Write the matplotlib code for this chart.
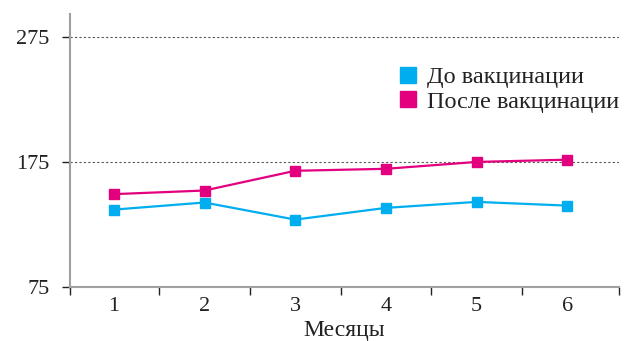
import matplotlib
matplotlib.use('Agg')
import matplotlib.pyplot as plt
from matplotlib.lines import Line2D

plt.rcParams['font.family'] = ['Liberation Serif', 'DejaVu Serif']

# monthly values for the two groups
months = [1, 2, 3, 4, 5, 6]
before = [136.8, 142.5, 128.8, 138.2, 143.0, 140.0]
after = [149.2, 152.1, 167.9, 169.5, 175.0, 176.8]
yticks = [75, 175, 275]
labels = ['До вакцинации', 'После вакцинации']
xlabel = 'Месяцы'

blue = '#00AEEF'
pink = '#E3007E'

fig = plt.figure(figsize=(6.33, 3.41), dpi=100)
ax = fig.add_axes([0.111, 0.159, 0.867, 0.8])

ax.plot(months, before, color=blue, lw=1.6, marker='s', ms=7, mec=blue)
ax.plot(months, after, color=pink, lw=1.6, marker='s', ms=7, mec=pink)

# dotted reference lines at the upper ticks only
for v in yticks[1:]:
    ax.axhline(v, color='#555555', lw=0.8, ls=(0, (2, 2)), zorder=0)

ax.set_ylim(75, 293.5)
ax.set_xlim(0.52, 6.57)
ax.set_yticks(yticks)
ax.set_xticks(months)
ax.set_xticks([0.52, 1.5, 2.5, 3.5, 4.5, 5.5, 6.57], minor=True)
ax.tick_params(axis='x', which='major', length=0, pad=7, labelsize=16)
ax.tick_params(axis='x', which='minor', length=6, width=1, color='#222222')
ax.tick_params(axis='y', length=6, width=1, color='#222222', pad=9, labelsize=16)
ax.tick_params(labelcolor='#222222')

for s in ['top', 'right']:
    ax.spines[s].set_visible(False)
for s in ['left', 'bottom']:
    ax.spines[s].set_color('#a0a0a0')
    ax.spines[s].set_linewidth(1.5)

ax.set_xlabel(xlabel, fontsize=17, labelpad=3, color='#222222')

handles = [Line2D([], [], ls='none', marker='s', ms=11.5, color=blue),
           Line2D([], [], ls='none', marker='s', ms=11.5, color=pink)]
fig.legend(handles, labels, loc='upper left', bbox_to_anchor=(398 / 633, 1 - 66 / 341),
           frameon=False, fontsize=17.5, handlelength=0.8, handletextpad=0.4,
           labelspacing=0.12, borderpad=0, borderaxespad=0, labelcolor='#222222')

fig.savefig('out.png', dpi=100)
